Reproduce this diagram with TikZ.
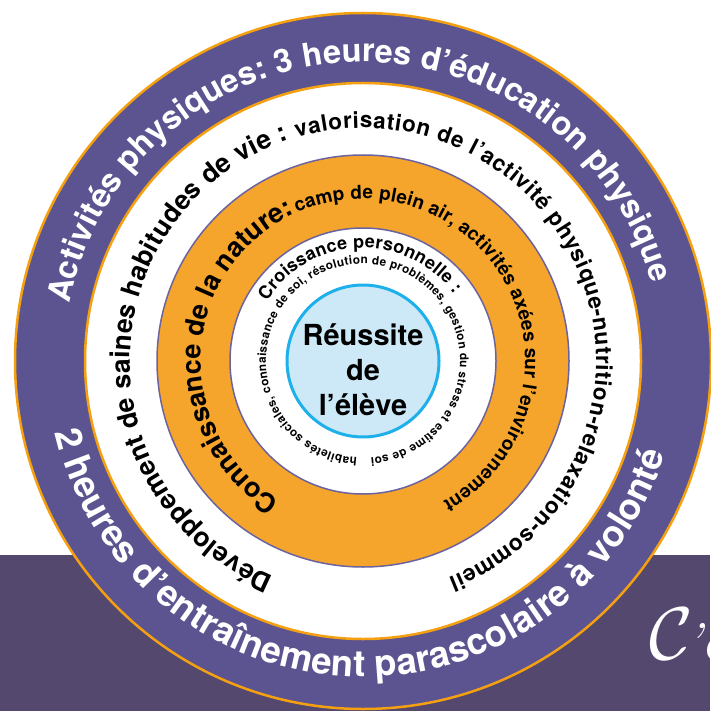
\documentclass[tikz,border=0pt]{standalone}
\usepackage{fontspec}
\setmainfont{TeX Gyre Heros}
\newfontfamily\lmrfont{Latin Modern Roman}
\usetikzlibrary{decorations.text}
\definecolor{ringpurple}{HTML}{5B5491}
\definecolor{bandpurple}{HTML}{55486F}
\definecolor{ringorange}{HTML}{F6A52C}
\definecolor{edgeorange}{HTML}{F5A010}
\definecolor{edgepurple}{HTML}{6B63A0}
\definecolor{corefill}{HTML}{CDE8F6}
\definecolor{corecyan}{HTML}{1EB0EA}
\newcommand\fsz[1]{\fontsize{#1}{#1}\selectfont\bfseries}
\begin{document}
\begin{tikzpicture}[x=1pt,y=1pt,
  arctext/.style={decorate, decoration={text along path, text align={fit to path}, #1}},
  coretext/.style={font=\fsz{29}, anchor=base, inner sep=0pt}]
\useasboundingbox (0,0) rectangle (710,-711);
\fill[bandpurple] (0,-555) rectangle (710,-711);
\coordinate (C) at (363,-361);
\fill[ringpurple, draw=edgeorange, line width=2.5] (C) circle[radius=348];
\fill[white, draw=edgeorange, line width=2.5] (C) circle[radius=278];
\fill[ringorange, draw=edgepurple, line width=1.5] (C) circle[radius=206];
\fill[white, draw=edgepurple, line width=1.5] (C) circle[radius=133];
\fill[corefill, draw=corecyan, line width=3] (C) circle[radius=76];
% outer ring
\path[arctext={text={|\fsz{32.5}|Activités physiques: 3 heures d’éducation physique}, text color=white}]
  ([shift={(169:299)}]C) arc[start angle=169, end angle=15, radius=299];
\path[arctext={text={|\fsz{36.5}|2 heures d’entraînement parascolaire à volonté}, text color=white}]
  ([shift={(193:316)}]C) arc[start angle=193, end angle=343, radius=316];
% white ring
\path[arctext={text={|\fsz{26.5}|Développement de saines habitudes de vie :}, text color=black}]
  ([shift={(247.5:233)}]C) arc[start angle=247.5, end angle=108.5, radius=233];
\path[arctext={text={|\fsz{22.5}|valorisation de l’activité physique-nutrition-relaxation-sommeil}, text color=black}]
  ([shift={(106.5:233)}]C) arc[start angle=106.5, end angle=-68.5, radius=233];
% orange ring
\path[arctext={text={|\fsz{27}|Connaissance de la nature:}, text color=black}]
  ([shift={(239:162)}]C) arc[start angle=239, end angle=116, radius=162];
\path[arctext={text={|\fsz{19}|camp de plein air, activités axées sur l’environnement}, text color=black}]
  ([shift={(114:162)}]C) arc[start angle=114, end angle=-60.5, radius=162];
% inner white ring
\path[arctext={text={|\fsz{18}|Croissance personnelle :}, text color=black}]
  ([shift={(148:113)}]C) arc[start angle=148, end angle=36.5, radius=113];
\path[arctext={text={|\fsz{11.8}|habiletés sociales, connaissance de soi, résolution de problèmes, gestion du stress et estime de soi}, text color=black}]
  ([shift={(266.5:97)}]C) arc[start angle=266.5, end angle=-85.5, radius=97];
% core
\node[coretext] (r1) at (363,-345) {Réussite};
\node[coretext] (r2) at (363,-380) {de};
\node[coretext] (r3) at (363,-415) {l’élève};
% script text on band
\node[anchor=base west, inner sep=0pt, text=white, font=\fontsize{20}{20}\selectfont, scale=3.6] (cs) at (649,-659) {$\mathcal{C}$};
\node[anchor=base west, inner sep=0pt, text=white, font=\lmrfont\itshape\fontsize{52}{52}\selectfont] (ce) at (686,-659) {’e};
\end{tikzpicture}
\end{document}
